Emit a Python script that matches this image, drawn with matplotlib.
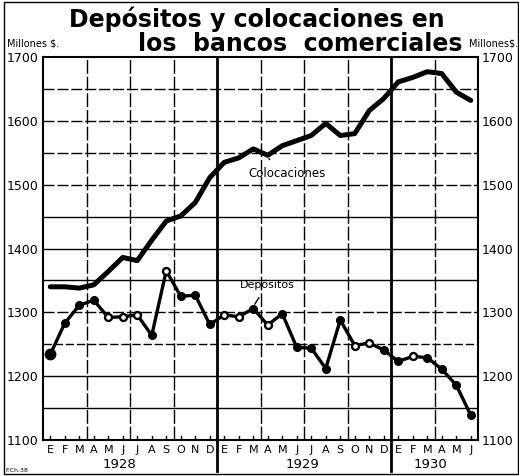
import matplotlib
matplotlib.use("Agg")
import matplotlib.pyplot as plt
from matplotlib.patches import Rectangle

# ---- data ----
months = ["E", "F", "M", "A", "M", "J", "J", "A", "S", "O", "N", "D",
          "E", "F", "M", "A", "M", "J", "J", "A", "S", "O", "N", "D",
          "E", "F", "M", "A", "M", "J"]
years = ["1928", "1929", "1930"]
colocaciones = [1340, 1340, 1338, 1343, 1364, 1386, 1381, 1413, 1443, 1451,
                1472, 1511, 1535, 1542, 1556, 1546, 1561, 1569, 1577, 1596,
                1577, 1580, 1616, 1635, 1661, 1668, 1677, 1674, 1645, 1632]
depositos = [1234, 1283, 1311, 1319, 1292, 1293, 1296, 1264, 1365, 1325,
             1327, 1281, 1296, 1293, 1306, 1280, 1298, 1245, 1244, 1212,
             1288, 1248, 1252, 1241, 1223, 1231, 1229, 1211, 1186, 1139]
y_ticks = [1100, 1200, 1300, 1400, 1500, 1600, 1700]

W, H = 519, 476
fig = plt.figure(figsize=(W / 100, H / 100), dpi=100)
fig.patch.set_facecolor("white")

def fx(px):
    return px / W

def fy(py):
    return 1 - py / H

ax = fig.add_axes([fx(43), fy(440), fx(478) - fx(43), fy(57) - fy(440)])
n = len(months)
x = list(range(n))
ax.set_xlim(-0.5, n - 0.5)
ax.set_ylim(1100, 1700)

# horizontal grid lines
hstyles = {1150: "-", 1200: "-", 1250: (0, (6, 2)), 1300: (0, (8, 2)),
           1350: "-", 1400: "-", 1450: "-", 1500: (0, (8, 2)),
           1550: (0, (8, 2)), 1600: (0, (8, 2)), 1650: (0, (8, 2))}
for v, ls in hstyles.items():
    ax.axhline(v, color="black", lw=1.0, ls=ls, zorder=1)

# vertical grid lines (quarters) and year separators
for q in [2.5, 5.5, 8.5, 14.5, 17.5, 20.5, 26.5]:
    ax.axvline(q, color="black", lw=1.0, ls=(0, (10, 2)), zorder=1)
for s in [11.5, 23.5]:
    ax.plot([s, s], [1700, 1100], color="black", lw=2.0, zorder=1)
    ax.plot([s, s], [1100, 1052], color="black", lw=2.0, zorder=1,
            clip_on=False)

# month ticks inside
for i in x:
    ax.plot([i, i], [1100, 1106], color="black", lw=1.0, zorder=1)

for sp in ax.spines.values():
    sp.set_linewidth(1.5)
    sp.set_color("black")

# series
ax.plot(x, colocaciones, color="black", lw=3.6, solid_capstyle="round",
        solid_joinstyle="round", zorder=3)
ax.plot(x, depositos, color="black", lw=2.4, zorder=3,
        solid_joinstyle="round")
open_pts = {4, 5, 6, 8, 12, 13, 15, 21, 22, 25}
for i in x:
    if i in open_pts:
        ax.plot(i, depositos[i], "o", ms=5, mfc="white", mec="black",
                mew=1.7, zorder=4)
    else:
        ax.plot(i, depositos[i], "o", ms=5.5 if i else 7.5, mfc="black",
                mec="black", zorder=4)

ax.set_xticks([])
ax.set_yticks(y_ticks)
ax.set_yticklabels([str(t) for t in y_ticks], fontsize=9)
ax.tick_params(axis="y", length=0, pad=3)
axr = ax.twinx()
axr.set_ylim(1100, 1700)
axr.set_yticks(y_ticks)
axr.set_yticklabels([str(t) for t in y_ticks], fontsize=9)
axr.tick_params(axis="y", length=0, pad=3)
for sp in axr.spines.values():
    sp.set_visible(False)

# month labels and years
for i, m in enumerate(months):
    ax.text(i, 1085, m, ha="center", va="center", fontsize=8)
for xp, yr in zip([4.8, 17.4, 26.2], years):
    ax.text(xp, 1061, yr, ha="center", va="center", fontsize=9.5)

# annotations
ax.annotate("Depósitos", xy=(14, depositos[14] + 3), xytext=(14.95, 1343),
            ha="center", va="center", fontsize=8,
            arrowprops=dict(arrowstyle="-", color="black", lw=1.0,
                            shrinkA=4, shrinkB=2))
ax.annotate("Colocaciones", xy=(15, colocaciones[15] - 4),
            xytext=(16.3, 1518), ha="center", va="center", fontsize=8.5,
            arrowprops=dict(arrowstyle="-", color="black", lw=1.0,
                            shrinkA=5, shrinkB=1))

# titles
fig.text(fx(257), fy(19), "Depósitos y colocaciones en", ha="center",
         va="center", fontsize=17, fontweight="bold")
fig.text(fx(300), fy(44), "los  bancos  comerciales", ha="center",
         va="center", fontsize=17, fontweight="bold")
fig.text(fx(7), fy(44), "Millones $.", ha="left", va="center", fontsize=7)
fig.text(fx(518), fy(44), "Millones$.", ha="right", va="center", fontsize=7)
fig.text(fx(5), fy(470), "F.Ch.38", ha="left", va="center", fontsize=4.5)

# outer frame
fig.add_artist(Rectangle((fx(4), fy(474)), fx(514), fy(2) - fy(474),
                         transform=fig.transFigure, fill=False,
                         edgecolor="black", lw=1.0))

fig.savefig("out.png", dpi=100)
